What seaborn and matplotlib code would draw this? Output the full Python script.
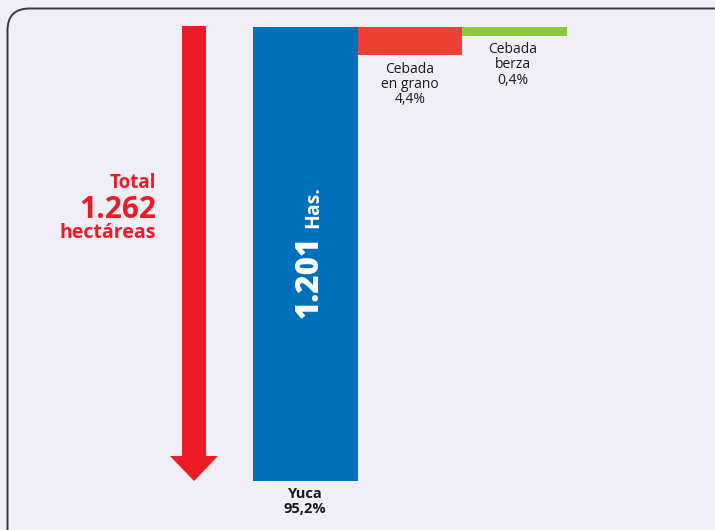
import matplotlib
matplotlib.use("Agg")
import matplotlib.pyplot as plt
from matplotlib.patches import FancyBboxPatch, Polygon
import seaborn as sns
import pandas as pd

# ---- data ----
categories = ["Yuca", "Cebada en grano", "Cebada berza"]
hectares_label = [1201, 55, 5]
bar_values = [1201, 74, 24]          # bar lengths as drawn in the picture
shares = ["95,2%", "4,4%", "0,4%"]
total = 1262
colors = ["#0070ba", "#ee4035", "#8dc63f"]

BG = "#f0eef7"
RED = "#ed1c24"

sns.set_theme(style="white")
plt.rcParams["font.family"] = ["Open Sans", "DejaVu Sans"]

fig = plt.figure(figsize=(7.15, 5.30), dpi=100)
fig.patch.set_facecolor(BG)

# main bar axes
ax = fig.add_axes([0, 0, 1, 1], zorder=1)
ax.patch.set_alpha(0)
df = pd.DataFrame({"cat": categories, "val": bar_values})
sns.barplot(data=df, x="cat", y="val", hue="cat", palette=colors, width=1.0,
            saturation=1, legend=False, ax=ax, linewidth=0)
unit_px = 104.5
x0 = 305.5
ax.set_xlim(-x0 / unit_px, (715 - x0) / unit_px)
py = 454.5 / 1201.0
top = 26.5
ax.set_ylim((530 - top) / py, -top / py)
ax.axis("off")

# decoration axes in pixel coordinates (on top)
deco = fig.add_axes([0, 0, 1, 1], zorder=2)
deco.set_xlim(0, 715)
deco.set_ylim(530, 0)
deco.axis("off")
deco.patch.set_alpha(0)

border = FancyBboxPatch((7.5, 8.5), 800, 600, boxstyle="round,pad=0,rounding_size=22",
                        fill=False, edgecolor="#3a3a3a", linewidth=1.4)
deco.add_patch(border)

# arrow (decoration)
cx = 194
shaft_w = 24
head_w = 48
arrow_top = 26
head_start = 456
tip = 481
pts = [(cx - shaft_w / 2, arrow_top), (cx + shaft_w / 2, arrow_top),
       (cx + shaft_w / 2, head_start), (cx + head_w / 2, head_start),
       (cx, tip), (cx - head_w / 2, head_start), (cx - shaft_w / 2, head_start)]
deco.add_patch(Polygon(pts, closed=True, facecolor=RED, edgecolor="none"))

# Total text
deco.text(156, 188, "Total", color=RED, fontsize=13.5, fontweight="bold", ha="right", va="baseline")
deco.text(156, 218, f"{total:,}".replace(",", "."), color=RED, fontsize=21.5, fontweight="bold",
          ha="right", va="baseline")
deco.text(156, 238, "hectáreas", color=RED, fontsize=14, fontweight="bold", ha="right", va="baseline")

# inside Yuca bar
deco.text(318, 318, f"{hectares_label[0]:,}".replace(",", "."), color="white", fontsize=22.5,
          fontweight="heavy", rotation=90, rotation_mode="anchor", ha="left", va="baseline")
deco.text(318, 228, "Has.", color="white", fontsize=14, fontweight="bold",
          rotation=90, rotation_mode="anchor", ha="left", va="baseline")

# labels
deco.text(305, 498, "Yuca", color="#1a1a1a", fontsize=10.5, fontweight="bold", ha="center", va="baseline")
deco.text(305, 513, shares[0], color="#1a1a1a", fontsize=10.5, fontweight="bold", ha="center", va="baseline")

for t, y in [("Cebada", 73), ("en grano", 88), (shares[1], 103)]:
    deco.text(410, y, t, color="#1a1a1a", fontsize=10, ha="center", va="baseline")
for t, y in [("Cebada", 53), ("berza", 68), (shares[2], 84)]:
    deco.text(513, y, t, color="#1a1a1a", fontsize=10, ha="center", va="baseline")

fig.savefig("out.png", dpi=100, facecolor=BG)
